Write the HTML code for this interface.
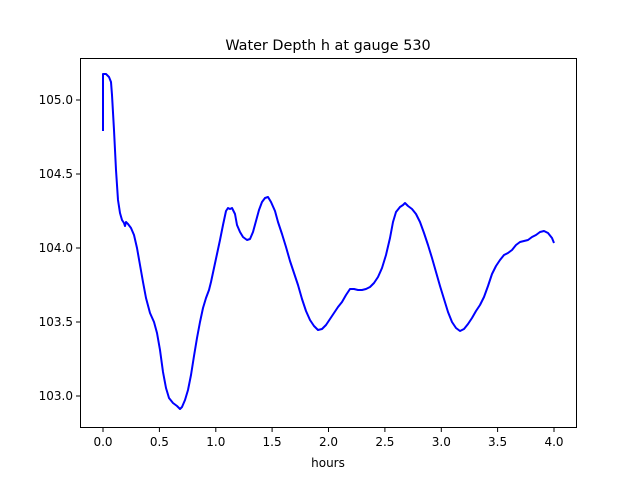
<!DOCTYPE html>
<html><head><style>body{margin:0;background:#fff}</style></head><body>
<svg width="640" height="480" xmlns="http://www.w3.org/2000/svg" font-family="DejaVu Sans, Liberation Sans, sans-serif">
<rect width="640" height="480" fill="#fff"/>
<polyline fill="none" stroke="#0000ff" stroke-width="2" stroke-linejoin="round" points="103,131 103,74 106,74 109,77 111,82 112,95 114,130 116,170 118,200 120,213 122,220 124,223 125,226 126,222 128,224 131,228 134,235 137,248 140,265 143,282 146,298 150,313 154,322 157,333 160,350 163,372 166,388 169,398 173,403 177,406 180,409 182,407 185,400 188,390 191,375 194,356 197,338 200,322 203,308 206,298 209,290 211,282 214,268 217,254 220,240 223,225 226,211 228,208 230,209 232,208 235,214 237,225 240,232 243,237 247,240 250,239 253,232 256,221 259,210 262,202 265,198 268,197 271,202 275,211 278,222 282,234 286,247 290,261 294,273 298,285 302,299 306,311 310,320 314,326 318,330 322,329 326,325 330,319 334,313 338,307 342,302 346,295 350,289 354,289 358,290 362,290 366,289 370,287 374,283 378,277 382,268 386,255 390,238 393,222 396,212 400,207 403,205 405,203 408,206 412,209 416,214 420,222 424,233 428,245 432,258 436,272 440,286 444,299 448,312 452,322 456,328 460,331 464,329 468,324 472,318 476,311 480,305 484,297 488,286 492,274 496,266 500,260 504,255 508,253 512,250 516,245 520,242 524,241 528,240 532,237 536,235 540,232 544,231 548,233 552,238 554,243"/>
<rect x="80.5" y="58.5" width="496" height="369" fill="none" stroke="#000" stroke-width="1"/>
<g stroke="#000" stroke-width="1">
<line x1="103" y1="428" x2="103" y2="432"/><line x1="159.4" y1="428" x2="159.4" y2="432"/><line x1="215.8" y1="428" x2="215.8" y2="432"/><line x1="272.1" y1="428" x2="272.1" y2="432"/><line x1="328.5" y1="428" x2="328.5" y2="432"/><line x1="384.9" y1="428" x2="384.9" y2="432"/><line x1="441.3" y1="428" x2="441.3" y2="432"/><line x1="497.6" y1="428" x2="497.6" y2="432"/><line x1="554" y1="428" x2="554" y2="432"/>
<line x1="76" y1="100" x2="80" y2="100"/><line x1="76" y1="174" x2="80" y2="174"/><line x1="76" y1="248" x2="80" y2="248"/><line x1="76" y1="322" x2="80" y2="322"/><line x1="76" y1="396" x2="80" y2="396"/>
</g>
<g font-size="12" text-anchor="middle" fill="#000">
<text x="103" y="446">0.0</text><text x="159.4" y="446">0.5</text><text x="215.8" y="446">1.0</text><text x="272.1" y="446">1.5</text><text x="328.5" y="446">2.0</text><text x="384.9" y="446">2.5</text><text x="441.3" y="446">3.0</text><text x="497.6" y="446">3.5</text><text x="554" y="446">4.0</text>
<text x="328" y="467">hours</text>
</g>
<g font-size="12" text-anchor="end" fill="#000">
<text x="73" y="104">105.0</text><text x="73" y="178">104.5</text><text x="73" y="252">104.0</text><text x="73" y="326">103.5</text><text x="73" y="400">103.0</text>
</g>
<text x="328" y="50" font-size="14.4" text-anchor="middle">Water Depth h at gauge 530</text>
</svg>
</body></html>
